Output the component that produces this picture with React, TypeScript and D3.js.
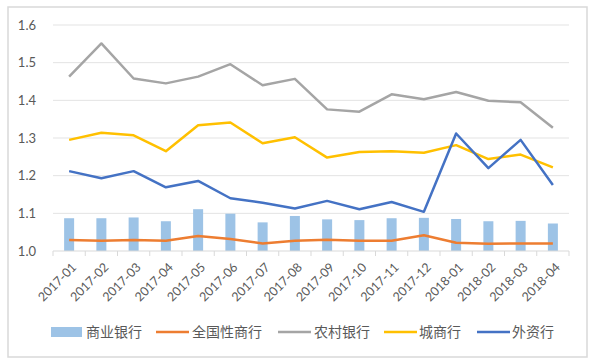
import React from "react";
import * as d3 from "d3";

const categories = ["2017-01","2017-02","2017-03","2017-04","2017-05","2017-06","2017-07","2017-08","2017-09","2017-10","2017-11","2017-12","2018-01","2018-02","2018-03","2018-04"];
const commercialBanks = [1.087,1.087,1.089,1.079,1.111,1.099,1.076,1.093,1.084,1.082,1.087,1.088,1.085,1.079,1.080,1.073];
const nationalBanks = [1.029,1.027,1.029,1.027,1.040,1.032,1.020,1.027,1.030,1.027,1.027,1.042,1.022,1.019,1.020,1.020];
const ruralBanks = [1.463,1.551,1.458,1.445,1.463,1.496,1.440,1.457,1.376,1.370,1.416,1.403,1.422,1.399,1.395,1.327];
const cityBanks = [1.295,1.314,1.307,1.265,1.334,1.341,1.286,1.302,1.248,1.263,1.265,1.261,1.281,1.244,1.256,1.222];
const foreignBanks = [1.212,1.193,1.212,1.169,1.186,1.140,1.128,1.113,1.133,1.111,1.130,1.104,1.312,1.220,1.295,1.175];
const yTicks = [1.0,1.1,1.2,1.3,1.4,1.5,1.6];

const lineSeries = [
  { name: "全国性商行", values: nationalBanks, color: "#ED7D31" },
  { name: "农村银行", values: ruralBanks, color: "#A5A5A5" },
  { name: "城商行", values: cityBanks, color: "#FFC000" },
  { name: "外资行", values: foreignBanks, color: "#4472C4" },
];
const barName = "商业银行";
const barColor = "#9DC3E6";

const W = 600, H = 363;
const left = 53, right = 569, top = 25, bottom = 251;
const numFont = "Lato, 'Liberation Sans', sans-serif";
const cjkFont = "'Noto Sans CJK SC', sans-serif";

export default function App() {
  const x = d3.scaleBand<string>().domain(categories).range([left, right]).paddingInner(0).paddingOuter(0);
  const y = d3.scaleLinear().domain([1.0, 1.6]).range([bottom, top]);
  const bw = x.bandwidth();
  const barW = bw * 0.31;
  const cx = (c: string) => (x(c) as number) + bw / 2;
  const line = d3.line<number>().x((_, i) => cx(categories[i])).y((d) => y(d));

  const legendItems = [
    { name: barName, type: "bar", color: barColor, x0: 51, tx: 86 },
    { name: lineSeries[0].name, type: "line", color: lineSeries[0].color, x0: 156, tx: 192 },
    { name: lineSeries[1].name, type: "line", color: lineSeries[1].color, x0: 278, tx: 314 },
    { name: lineSeries[2].name, type: "line", color: lineSeries[2].color, x0: 384, tx: 419 },
    { name: lineSeries[3].name, type: "line", color: lineSeries[3].color, x0: 477, tx: 512 },
  ];
  const ly = 332;

  return (
    <svg width={W} height={H} style={{ position: "absolute", left: 0, top: 0, background: "#fff" }}>
      <rect x={8} y={7} width={579} height={350} fill="#fff" stroke="#d9d9d9" strokeWidth={1.5} />
      {yTicks.map((t) => (
        <g key={t}>
          {t > 1.0 && <line x1={left} x2={right} y1={y(t)} y2={y(t)} stroke="#e3e3e3" strokeWidth={1} />}
          <text x={36} y={y(t)} dy="0.35em" textAnchor="end" fontFamily={numFont} fontSize={13} fill="#595959">
            {t.toFixed(1)}
          </text>
        </g>
      ))}
      {categories.map((c, i) => (
        <rect key={c} x={cx(c) - barW / 2} y={y(commercialBanks[i])} width={barW} height={y(1.0) - y(commercialBanks[i])} fill={barColor} />
      ))}
      <line x1={left} x2={right} y1={bottom} y2={bottom} stroke="#d9d9d9" strokeWidth={1} />
      {categories.map((c) => (
        <line key={"t" + c} x1={x(c) as number} x2={x(c) as number} y1={bottom} y2={bottom + 5} stroke="#d9d9d9" />
      ))}
      <line x1={right} x2={right} y1={bottom} y2={bottom + 5} stroke="#d9d9d9" />
      {lineSeries.map((s) => (
        <path key={s.name} d={line(s.values) || ""} fill="none" stroke={s.color} strokeWidth={2.5} strokeLinejoin="round" />
      ))}
      {categories.map((c) => (
        <text key={"l" + c} transform={`translate(${cx(c) + 5},${bottom + 14}) rotate(-45)`} textAnchor="end" dy="0.35em" fontFamily={numFont} fontSize={12.5} fill="#595959">
          {c}
        </text>
      ))}
      {legendItems.map((it) => (
        <g key={it.name}>
          {it.type === "bar" ? (
            <rect x={it.x0} y={ly - 5} width={31} height={10} fill={it.color} />
          ) : (
            <line x1={it.x0} x2={it.x0 + 33} y1={ly} y2={ly} stroke={it.color} strokeWidth={2.5} />
          )}
          <text x={it.tx} y={ly} dy="0.35em" fontFamily={cjkFont} fontSize={14} fill="#595959">
            {it.name}
          </text>
        </g>
      ))}
    </svg>
  );
}
